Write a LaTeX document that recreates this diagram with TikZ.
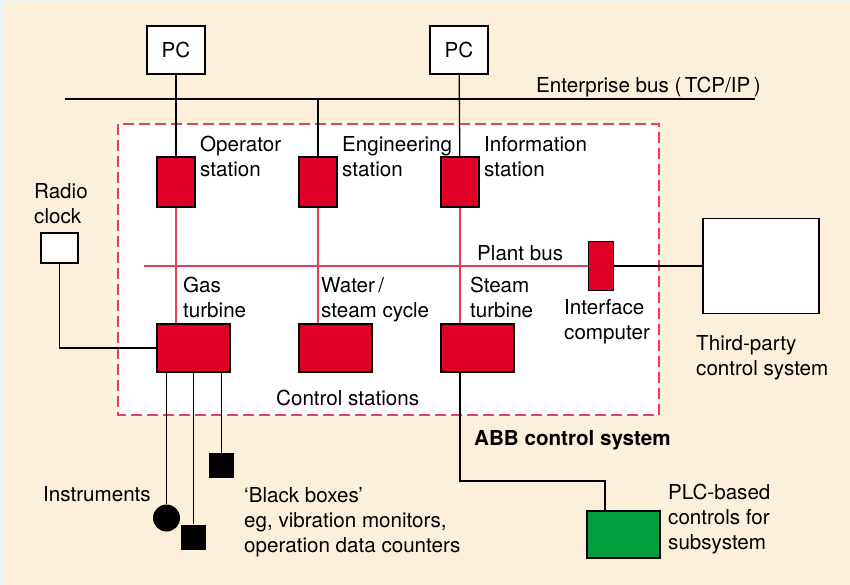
\documentclass[tikz,border=0pt]{standalone}
\usepackage{fontspec}
\setmainfont{TeX Gyre Heros}
\usepackage{xcolor}
\usepackage{tikz}
\definecolor{cream}{HTML}{FDF0DA}
\definecolor{rim}{HTML}{E9F2F8}
\definecolor{abbred}{HTML}{DF0024}
\definecolor{busred}{HTML}{E4405A}
\definecolor{plcgreen}{HTML}{009E3D}
\tikzstyle{pc}=[draw, fill=white, line width=1.1pt, minimum width=58pt, minimum height=48pt, inner sep=0pt]
\tikzstyle{station}=[draw, fill=abbred, line width=1.1pt, minimum width=38pt, minimum height=50pt, inner sep=0pt]
\tikzstyle{ctrl}=[draw, fill=abbred, line width=1.1pt, minimum width=73pt, minimum height=48pt, inner sep=0pt]
\tikzstyle{blk}=[fill=black, minimum size=25pt, inner sep=0pt]
\tikzstyle{lbl}=[anchor=north west, inner sep=0pt, align=left]
\tikzstyle{wire}=[line width=1.3pt]
\tikzstyle{rwire}=[line width=1.3pt, busred]

\begin{document}
\begin{tikzpicture}[x=1pt, y=-1pt, font=\fontsize{20.6}{25}\selectfont]
\useasboundingbox (0,0) rectangle (850,585);
\fill[rim] (0,0) rectangle (850,585);
\fill[cream] (3,2) rectangle (850,585);
% ABB control system area
\draw[busred, line width=1.2pt, dash pattern=on 11pt off 5pt, fill=white] (118,124) rectangle (659,415);
\coordinate (eb-w) at (65,99);
\coordinate (eb-e) at (755,99);
\coordinate (pb-w) at (144,266);
\coordinate (plcbend) at (605,481);
\node[pc] (pc1) at (176,50) {PC};
\node[pc] (pc2) at (459,50) {PC};
\foreach \n/\x in {op/176, eng/318, inf/460}
  \node[station] (\n) at (\x,182) {};
\foreach \n/\x in {gas/193.5, water/335.5, steam/477.5}
  \node[ctrl] (\n) at (\x,348) {};
\node[draw, fill=abbred, line width=1.1pt, minimum width=25pt, minimum height=49pt, inner sep=0pt] (ifc) at (601,266) {};
\node[draw, fill=white, line width=1.1pt, minimum width=116pt, minimum height=95pt] (third) at (761,266) {};
\node[draw, fill=white, line width=1.1pt, minimum width=37pt, minimum height=30pt] (radio) at (59.5,248) {};
\node[circle, fill=black, minimum size=27pt, inner sep=0pt] (inst) at (166.5,518) {};
\node[blk] (bb1) at (193.5,537) {};
\node[blk] (bb2) at (221.5,465.5) {};
\node[draw, fill=plcgreen, line width=1.1pt, minimum width=73pt, minimum height=47pt] (plc) at (623.5,534.5) {};
% buses
\draw[wire] (eb-w) -- (eb-e);
\draw[rwire] (pb-w) -- (ifc.west);
\draw[wire] (ifc.east) -- (third.west);
\draw[wire] (pc1) -- (op);
\draw[wire] (pc2) -- (inf);
\draw[wire] (eng.north) -- (eng |- eb-w);
\foreach \s/\c in {op/gas, eng/water, inf/steam}
  \draw[rwire] (\s.south) -- (\s |- \c.north);
\draw[wire] (radio.south) |- (gas.west);
\foreach \t in {inst, bb1, bb2}
  \draw[wire] (\t |- gas.south) -- (\t);
\draw[wire] (inf |- steam.south) |- (plcbend) -- (plcbend |- plc.north);
% labels
\node[lbl] at (536,77) {Enterprise bus (\,TCP/IP\,)};
\node[lbl] at (200,136) {Operator\\station};
\node[lbl] at (342,136) {Engineering\\station};
\node[lbl] at (484,136) {Information\\station};
\node[lbl] at (34,183) {Radio\\clock};
\node[lbl] at (477,245) {Plant bus};
\node[lbl] at (183,277) {Gas\\turbine};
\node[lbl] at (321,277) {Water\,/\\steam cycle};
\node[lbl] at (470,277) {Steam\\turbine};
\node[lbl] at (564,299) {Interface\\computer};
\node[lbl] at (696,335) {Third-party\\control system};
\node[lbl] at (276,390) {Control stations};
\node[lbl, font=\fontsize{20.6}{25}\selectfont\bfseries] at (474,430) {ABB control system};
\node[lbl] at (43,486) {Instruments};
\node[lbl] at (244,487) {`Black boxes'\\eg, vibration monitors,\\operation data counters};
\node[lbl] at (668,484) {PLC-based\\controls for\\subsystem};
\end{tikzpicture}
\end{document}
